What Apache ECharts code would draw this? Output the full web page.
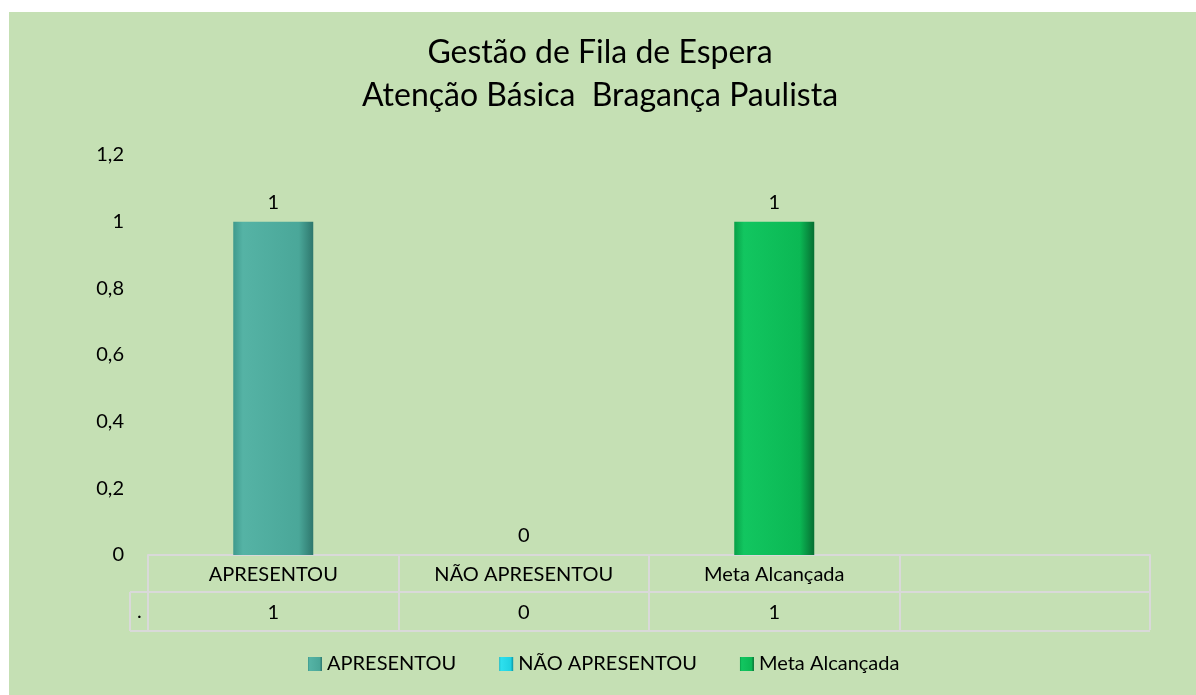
<!DOCTYPE html>
<html>
<head>
<meta charset="utf-8">
<script src="https://cdn.jsdelivr.net/npm/echarts@6/dist/echarts.min.js"></script>
<style>
	html, body { margin: 0; padding: 0; background: #ffffff; }
	#wrap { position: absolute; left: 9px; top: 12px; width: 1187px; height: 683px; background: #c5e0b4; }
	#main { width: 1196px; height: 695px; position: absolute; left: 0; top: 0; }
</style>
</head>
<body>
<div id="wrap"></div>
<div id="main"></div>
<script>
// dados do gráfico
var categorias = ['APRESENTOU', 'NÃO APRESENTOU', 'Meta Alcançada', ''];
var valores = [1, 0, 1, null];
var nomeLinha = '.';
var tickLabels = ['0', '0,2', '0,4', '0,6', '0,8', '1', '1,2'];

var FONTE = 'Lato, "Open Sans", sans-serif';
var CINZA = '#d9d9d9';
var TAM = 20;

// cores das barras (efeito bisel aproximado com gradiente)
function bisel(c1, c2, c3, c4) {
	return {
		type: 'linear', x: 0, y: 0, x2: 1, y2: 0,
		colorStops: [
			{offset: 0, color: c1},
			{offset: 0.12, color: c2},
			{offset: 0.82, color: c3},
			{offset: 1, color: c4}
		]
	};
}
var cores = [
	bisel('#3f9a8d', '#55b3a5', '#4aa799', '#2e776d'),
	bisel('#12b8c8', '#2ee0ee', '#1fd2e2', '#0a94a2'),
	bisel('#08a048', '#12c660', '#0bb854', '#066f32')
];

// uma série por categoria, empilhadas para ficar centralizadas
var series = categorias.slice(0, 3).map(function(nome, i) {
	var dados = categorias.map(function(c, j) {
		return j === i ? valores[j] : '-';
	});
	return {
		name: nome,
		type: 'bar',
		stack: 'total',
		barWidth: 80,
		data: dados,
		itemStyle: {color: cores[i]},
		label: {
			show: true,
			position: 'top',
			distance: 9,
			color: '#000',
			fontFamily: FONTE,
			fontSize: TAM
		}
	};
});

var chart = echarts.init(document.getElementById('main'));
chart.setOption({
	animation: false,
	backgroundColor: 'transparent',
	title: {
		text: 'Gestão de Fila de Espera\nAtenção Básica  Bragança Paulista',
		left: 595,
		textAlign: 'center',
		top: 26,
		textStyle: {
			fontFamily: FONTE,
			fontWeight: 'normal',
			fontSize: 32,
			lineHeight: 43,
			color: '#000'
		}
	},
	legend: {
		top: 649,
		left: 303,
		icon: 'rect',
		itemWidth: 14,
		itemHeight: 14,
		itemGap: 43,
		textStyle: {fontFamily: FONTE, fontSize: TAM, color: '#000'},
		data: categorias.slice(0, 3)
	},
	grid: {left: 148, right: 46, top: 155, bottom: 140, containLabel: false},
	xAxis: [{
		type: 'category',
		data: categorias,
		axisLine: {show: true, lineStyle: {color: CINZA, width: 2}},
		axisTick: {show: true, length: 75, lineStyle: {color: CINZA, width: 2}},
		axisLabel: {margin: 10, interval: 0, color: '#000', fontFamily: FONTE, fontSize: TAM}
	}, {
		type: 'category',
		data: categorias,
		position: 'bottom',
		offset: 37,
		axisLine: {show: true, lineStyle: {color: CINZA, width: 2}},
		axisTick: {show: false},
		axisLabel: {
			margin: 11, interval: 0, color: '#000', fontFamily: FONTE, fontSize: TAM,
			formatter: function(v, i) {
				return valores[i] == null ? '' : String(valores[i]);
			}
		}
	}],
	yAxis: {
		type: 'value',
		min: 0,
		max: 1.2,
		interval: 0.2,
		axisLine: {show: false},
		axisTick: {show: false},
		splitLine: {show: false},
		axisLabel: {
			margin: 24,
			color: '#000',
			fontFamily: FONTE,
			fontSize: TAM,
			formatter: function(v) {
				return tickLabels[Math.round(v / 0.2)];
			}
		}
	},
	series: series
});

// completa a tabela de dados (linha "." à esquerda e linha inferior)
var x0 = chart.convertToPixel({xAxisIndex: 0}, 0);
var x1 = chart.convertToPixel({xAxisIndex: 0}, 1);
var banda = x1 - x0;
var esq = x0 - banda / 2;
var dir = esq + banda * categorias.length;
var y0 = chart.convertToPixel({yAxisIndex: 0}, 0);
var linha1 = y0 + 37;
var linha2 = y0 + 76;
var celEsq = esq - 18;
chart.setOption({
	graphic: [
		{type: 'line', shape: {x1: celEsq, y1: linha1, x2: esq, y2: linha1}, style: {stroke: CINZA, lineWidth: 2}},
		{type: 'line', shape: {x1: celEsq, y1: linha2, x2: dir, y2: linha2}, style: {stroke: CINZA, lineWidth: 2}},
		{type: 'line', shape: {x1: celEsq, y1: linha1, x2: celEsq, y2: linha2}, style: {stroke: CINZA, lineWidth: 2}},
		{type: 'text', x: celEsq + 7, y: (linha1 + linha2) / 2, style: {text: nomeLinha, fill: '#000', font: TAM + 'px ' + FONTE, verticalAlign: 'middle'}}
	]
});
</script>
</body>
</html>
